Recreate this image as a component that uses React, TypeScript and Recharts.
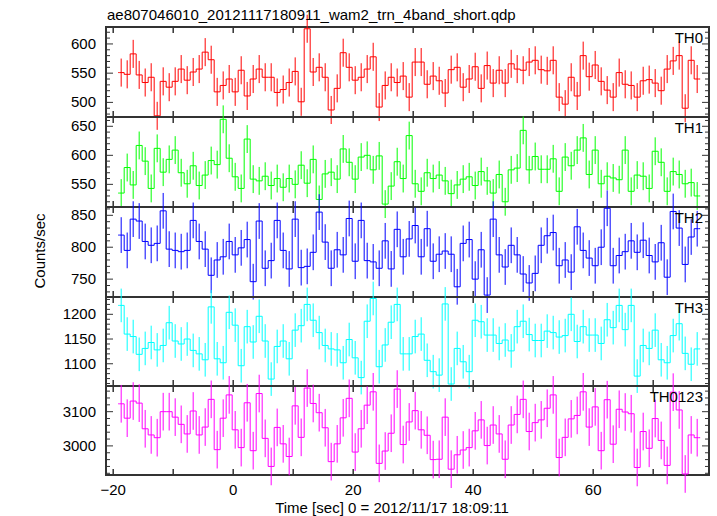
import React from 'react';
import { LineChart, Line, XAxis, YAxis, ErrorBar, ReferenceArea } from 'recharts';

// 1 s bins, time in sec from 2012/11/17 18:09:11 (centre of first bin)
const BIN_START = -18.67;
const BIN_WIDTH = 1;

const TH0 = [
  551, 548, 583, 547, 534, 543, 477, 536, 526, 536, 557, 538, 552, 557, 586, 573, 518, 529, 540, 518,
  555, 511, 540, 557, 543, 543, 517, 522, 534, 553, 501, 626, 552, 560, 543, 487, 524, 585, 560, 538,
  543, 557, 578, 492, 529, 543, 534, 545, 509, 569, 569, 531, 545, 537, 516, 556, 560, 526, 540, 561,
  524, 563, 533, 555, 533, 566, 557, 555, 569, 572, 556, 554, 572, 509, 497, 543, 511, 580, 544, 564,
  536, 521, 509, 551, 531, 529, 509, 537, 539, 533, 520, 557, 571, 580, 490, 572, 540,
];
const TH1 = [
  535, 579, 549, 617, 590, 543, 612, 571, 593, 609, 570, 551, 582, 548, 566, 591, 584, 662, 595, 563,
  543, 628, 559, 556, 564, 548, 560, 545, 560, 550, 583, 552, 593, 524, 568, 571, 559, 611, 588, 559,
  597, 600, 575, 599, 516, 547, 589, 560, 634, 551, 538, 570, 560, 566, 556, 534, 549, 559, 563, 548,
  572, 556, 535, 567, 520, 575, 578, 643, 575, 598, 576, 576, 594, 538, 597, 582, 609, 630, 567, 609,
  551, 564, 561, 558, 609, 538, 566, 564, 543, 607, 588, 538, 572, 567, 551, 553, 530,
];
const TH2 = [
  819, 795, 844, 841, 809, 803, 806, 857, 797, 795, 793, 795, 842, 809, 797, 756, 780, 785, 809, 788,
  799, 812, 746, 841, 767, 779, 842, 795, 766, 844, 768, 770, 792, 855, 808, 767, 796, 788, 845, 778,
  842, 779, 777, 767, 810, 766, 828, 785, 813, 834, 785, 829, 778, 789, 794, 789, 738, 806, 812, 750,
  796, 725, 844, 788, 769, 803, 788, 758, 744, 759, 803, 818, 823, 771, 780, 761, 832, 795, 783, 771,
  800, 861, 771, 787, 793, 810, 792, 811, 787, 777, 807, 753, 856, 830, 773, 816, 829,
];
const TH3 = [
  1218, 1160, 1155, 1119, 1131, 1143, 1128, 1137, 1183, 1146, 1140, 1150, 1127, 1120, 1108, 1215, 1110, 1102, 1204, 1178,
  1096, 1175, 1144, 1196, 1146, 1069, 1135, 1146, 1110, 1168, 1177, 1220, 1188, 1163, 1137, 1130, 1128, 1102, 1149, 1112,
  1072, 1186, 1232, 1094, 1138, 1184, 1220, 1120, 1120, 1155, 1160, 1107, 1084, 1077, 1221, 1059, 1131, 1104, 1084, 1188,
  1185, 1158, 1158, 1141, 1148, 1126, 1175, 1186, 1159, 1147, 1147, 1166, 1163, 1154, 1157, 1200, 1145, 1175, 1158, 1158,
  1141, 1189, 1173, 1218, 1169, 1218, 1075, 1137, 1131, 1168, 1108, 1102, 1157, 1181, 1121, 1099, 1130,
];
const TH0123 = [
  3123, 3081, 3131, 3125, 3050, 3032, 3024, 3100, 3100, 3084, 3063, 3035, 3102, 3032, 3055, 3136, 2989, 3081, 3149, 3047,
  2995, 3126, 2986, 3153, 3022, 2940, 3054, 3006, 2969, 3117, 3025, 3169, 3124, 3097, 3053, 2954, 3006, 3082, 3139, 2982,
  3050, 3119, 3158, 2949, 2985, 3037, 3166, 3004, 3070, 3103, 3047, 3031, 2960, 2961, 3084, 2932, 2974, 2988, 2995, 3044,
  3076, 3001, 3061, 3035, 2961, 3061, 3092, 3136, 3042, 3068, 3076, 3110, 3149, 2966, 3025, 3079, 3089, 3158, 3055, 3114,
  2986, 3135, 3005, 3107, 3099, 3094, 2937, 3042, 2993, 3080, 3016, 2943, 3157, 3105, 2918, 3032, 3024,
];

// error bar half lengths (counts/sec)
const TH0_ERR = 24;
const TH1_ERR = 24;
const TH2_ERR = 28;
const TH3_ERR = 34;
const TH0123_ERR = 55;

const X_DOMAIN = [-21.2, 79.3];
const X_TICKS = [-20, -10, 0, 10, 20, 30, 40, 50, 60, 70];
const X_LABELS = [-20, 0, 20, 40, 60];

const W = 717;
const H = 516;
const PLOT_L = 106;
const PLOT_R = 709;
const FONT = '"Liberation Sans", Arial, Helvetica, sans-serif';
const AXIS = '#333';

const PANELS = [
  { name: 'TH0', values: TH0, err: TH0_ERR, color: '#ff0000', domain: [475, 629], labels: [500, 550, 600], minor: 10, top: 27, h: 90 },
  { name: 'TH1', values: TH1, err: TH1_ERR, color: '#00ff00', domain: [511, 666], labels: [550, 600, 650], minor: 10, top: 117, h: 90 },
  { name: 'TH2', values: TH2, err: TH2_ERR, color: '#0000ff', domain: [722, 863], labels: [750, 800, 850], minor: 10, top: 207, h: 90 },
  { name: 'TH3', values: TH3, err: TH3_ERR, color: '#00ffff', domain: [1055, 1235], labels: [1100, 1150, 1200], minor: 10, top: 297, h: 89 },
  { name: 'TH0123', values: TH0123, err: TH0123_ERR, color: '#ff00ff', domain: [2915, 3175], labels: [3000, 3100], minor: 20, top: 386, h: 89 },
];

const buildRows = (values: number[], err: number) => {
  const rows = values.map((v, i) => ({ t: BIN_START + i * BIN_WIDTH, v, e: err }));
  // half-bin pads so the first and last steps are full width
  const first = { t: BIN_START - BIN_WIDTH / 2, v: values[0] };
  const last = { t: BIN_START + (values.length - 0.5) * BIN_WIDTH, v: values[values.length - 1] };
  return [first, ...rows, last];
};

const minorTicks = (domain: number[], step: number) => {
  const out: number[] = [];
  for (let v = Math.ceil(domain[0] / step) * step; v <= domain[1]; v += step) out.push(v);
  return out;
};

const fmt = (v: number) => (v < 0 ? '\u2212' + Math.abs(v) : String(v));

const Panel = ({ p, bottom }: { p: any; bottom: boolean }) => {
  const rows = buildRows(p.values, p.err);
  const yTicks = minorTicks(p.domain, p.minor);
  const top = 20;
  const bot = 20 + p.h;

  const xTick = (props: any) => {
    const { x, payload } = props;
    return (
      <g>
        <line x1={x} x2={x} y1={top} y2={top + 6} stroke={AXIS} strokeWidth={1.5} />
        <line x1={x} x2={x} y1={bot - 6} y2={bot} stroke={AXIS} strokeWidth={1.5} />
        {bottom && X_LABELS.includes(payload.value) && (
          <text x={x} y={bot + 20} textAnchor="middle" fontSize={15} fontFamily={FONT} fill="#000">
            {fmt(payload.value)}
          </text>
        )}
      </g>
    );
  };

  const yTick = (props: any) => {
    const { y, payload } = props;
    const major = p.labels.includes(payload.value);
    const len = major ? 7 : 4;
    return (
      <g>
        <line x1={PLOT_L} x2={PLOT_L + len} y1={y} y2={y} stroke={AXIS} strokeWidth={1} />
        <line x1={PLOT_R - len} x2={PLOT_R} y1={y} y2={y} stroke={AXIS} strokeWidth={1} />
        {major && (
          <text x={PLOT_L - 10} y={y + 5} textAnchor="end" fontSize={15} fontFamily={FONT} fill="#000">
            {payload.value}
          </text>
        )}
      </g>
    );
  };

  return (
    <div style={{ position: 'absolute', left: 0, top: p.top - 20 }}>
      <LineChart
        width={W}
        height={p.h + 60}
        data={rows}
        margin={{ top: 20, right: W - PLOT_R, bottom: 0, left: PLOT_L - 60 }}
      >
        <XAxis
          dataKey="t"
          type="number"
          domain={X_DOMAIN}
          ticks={X_TICKS}
          allowDataOverflow
          axisLine={false}
          tickLine={false}
          interval={0}
          height={40}
          tick={xTick}
        />
        <YAxis
          type="number"
          domain={p.domain}
          ticks={yTicks}
          allowDataOverflow
          axisLine={false}
          tickLine={false}
          interval={0}
          width={60}
          tick={yTick}
        />
        <Line
          type="step"
          dataKey="v"
          stroke={p.color}
          strokeWidth={1}
          dot={false}
          activeDot={false}
          isAnimationActive={false}
        >
          <ErrorBar dataKey="e" width={0} stroke={p.color} strokeWidth={1} isAnimationActive={false} />
        </Line>
        <ReferenceArea
          x1={X_DOMAIN[0]}
          x2={X_DOMAIN[1]}
          y1={p.domain[0]}
          y2={p.domain[1]}
          fill="none"
          fillOpacity={0}
          stroke={AXIS}
          strokeWidth={2}
          ifOverflow="visible"
        />
      </LineChart>
    </div>
  );
};

const App = () => {
  return (
    <div style={{ position: 'absolute', left: 0, top: 0, width: W, height: H, background: '#fff', overflow: 'hidden' }}>
      {PANELS.map((p, i) => (
        <Panel key={p.name} p={p} bottom={i === PANELS.length - 1} />
      ))}
      <svg width={W} height={H} style={{ position: 'absolute', left: 0, top: 0, pointerEvents: 'none' }}>
        <text x={107} y={20} fontSize={15} fontFamily={FONT} fill="#000">
          ae807046010_20121117180911_wam2_trn_4band_short.qdp
        </text>
        <text x={392} y={513} textAnchor="middle" fontSize={15} fontFamily={FONT} fill="#000">
          Time [sec] 0 = 2012/11/17 18:09:11
        </text>
        <text
          x={45}
          y={251}
          textAnchor="middle"
          fontSize={15}
          fontFamily={FONT}
          fill="#000"
          transform="rotate(-90, 45, 251)"
        >
          Counts/sec
        </text>
        {PANELS.map((p) => (
          <text key={p.name} x={703} y={p.top + 15.5} textAnchor="end" fontSize={15} fontFamily={FONT} fill="#000">
            {p.name}
          </text>
        ))}
      </svg>
    </div>
  );
};

export default App;
